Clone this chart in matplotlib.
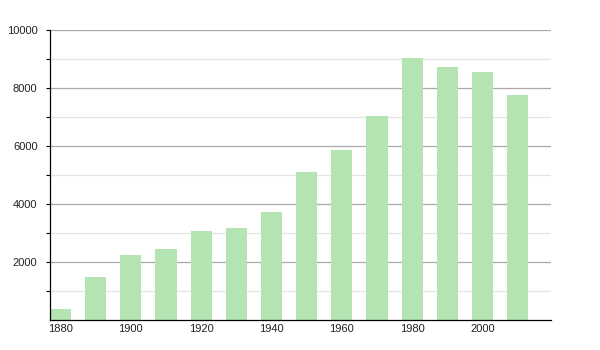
import matplotlib
matplotlib.use("Agg")
import matplotlib.pyplot as plt
import numpy as np

plt.rcParams['font.family'] = ['Liberation Sans', 'DejaVu Sans']

# population by census year
years = [1880, 1890, 1900, 1910, 1920, 1930, 1940, 1950, 1960, 1970, 1980, 1990, 2000, 2010]
population = [370, 1480, 2230, 2440, 3060, 3180, 3720, 5110, 5860, 7050, 9050, 8720, 8560, 7750]
xtick_years = [1880, 1900, 1920, 1940, 1960, 1980, 2000]
ytick_major = [2000, 4000, 6000, 8000, 10000]
ytick_minor = [1000, 3000, 5000, 7000, 9000]

fig = plt.figure(figsize=(6, 3.5), dpi=100)
ax = fig.add_axes([50/600, 30/350, 501/600, 290/350])

ax.bar(years, population, width=6, color='#b3e4b1', zorder=2)

ax.set_xlim(1877, 2019.5)
ax.set_ylim(0, 10000)

ax.set_xticks(xtick_years)
ax.set_yticks(ytick_major)
ax.set_yticks(ytick_minor, minor=True)

ax.grid(axis='y', which='major', color='#aaaaaa', linewidth=0.9, zorder=0)
ax.grid(axis='y', which='minor', color='#e4e4e4', linewidth=0.9, zorder=0)

ax.tick_params(axis='x', length=0, pad=3, labelsize=8, labelcolor='#222222')
ax.tick_params(axis='y', which='both', length=3, width=0.8, pad=6, labelsize=8,
               labelcolor='#222222', direction='out')

ax.spines['right'].set_color('none')
ax.spines['top'].set_color('none')
ax.spines['left'].set_linewidth(0.9)
ax.spines['bottom'].set_linewidth(0.9)

fig.savefig("out.png", dpi=100)
